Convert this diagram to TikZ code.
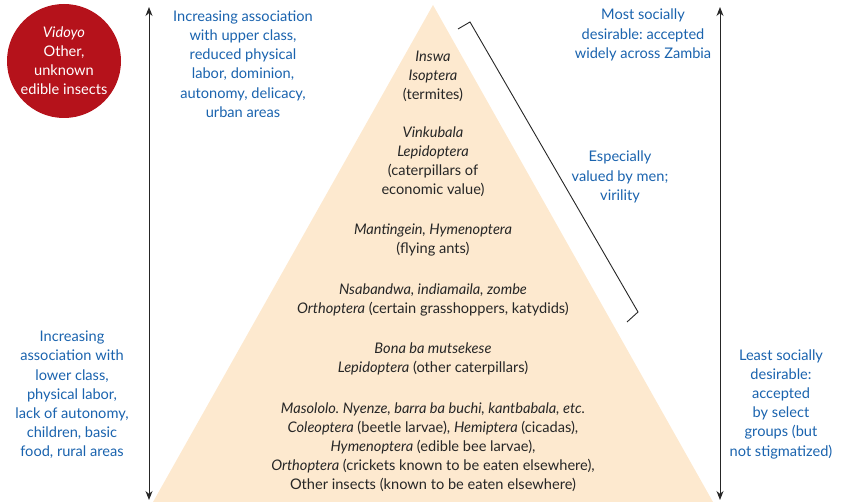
\documentclass[tikz,border=0pt]{standalone}
\usepackage{fontspec}
\setmainfont{Lato}
\frenchspacing
\usepackage{xcolor}
\definecolor{peach}{HTML}{FDE9CF}
\definecolor{crimson}{HTML}{B5121B}
\definecolor{azure}{HTML}{1A63AE}
\definecolor{ink}{HTML}{262626}
\usepackage{tikz}
\usetikzlibrary{arrows.meta,positioning}
\tikzset{
    tier/.style={align=center, text=ink, inner sep=0pt, font=\fontsize{14.6}{19}\selectfont},
    remark/.style={align=center, text=azure, inner sep=0pt, font=\fontsize{14.6}{19.2}\selectfont},
    scale_arrow/.style={{Stealth[length=9pt,width=7pt]}-{Stealth[length=9pt,width=7pt]}, line width=1pt, ink},
    bracket/.style={draw=ink, line width=0.9pt, line join=miter}
}

\begin{document}
\begin{tikzpicture}[x=1pt, y=-1pt]
  \useasboundingbox (0,0) rectangle (841,502);

  % Pyramid
  \fill[peach] (433,5) -- (713,502) -- (153,502) -- cycle;

  % Tiers, top to bottom
  \node[tier] (termites) at (433,76) {\textit{Inswa}\\\textit{Isoptera}\\(termites)};
  \node[tier] (caterp) at (433,161.5) {\textit{Vinkubala}\\\textit{Lepidoptera}\\(caterpillars of\\economic value)};
  \node[tier] (ants) at (433,240.5) {\textit{Mantingein, Hymenoptera}\\(flying ants)};
  \node[tier] (hoppers) at (433,299.5) {\textit{Nsabandwa, indiamaila, zombe}\\\textit{Orthoptera} (certain grasshoppers, katydids)};
  \node[tier] (others) at (433,358.5) {\textit{Bona ba mutsekese}\\\textit{Lepidoptera} (other caterpillars)};
  \node[tier] (base) at (433,447) {\textit{Masololo. Nyenze, barra ba buchi, kantbabala, etc.}\\
    \textit{Coleoptera} (beetle larvae), \textit{Hemiptera} (cicadas),\\
    \textit{Hymenoptera} (edible bee larvae),\\
    \textit{Orthoptera} (crickets known to be eaten elsewhere),\\
    Other insects (known to be eaten elsewhere)};

  % Unknown insects
  \node[circle, fill=crimson, minimum size=114pt, inner sep=0pt] (vidoyo) at (64,61) {};
  \node[tier, text=white] (vidoyotxt) at (vidoyo) {\textit{Vidoyo}\\Other,\\unknown\\edible insects};

  % Scale arrows
  \coordinate (ltop) at (149,7);
  \coordinate (lbot) at (149,500);
  \coordinate (rtop) at (720,7);
  \coordinate (rbot) at (720,500);
  \draw[scale_arrow] (lbot) -- (ltop);
  \draw[scale_arrow] (rbot) -- (rtop);

  % Side remarks
  \node[remark] (upper) at (243,64) {Increasing association\\with upper class,\\reduced physical\\labor, dominion,\\autonomy, delicacy,\\urban areas};
  \node[remark] (lower) at (72,395) {Increasing\\association with\\lower class,\\physical labor,\\lack of autonomy,\\children, basic\\food, rural areas};
  \node[remark] (most) at (643,35) {Most socially\\desirable: accepted\\widely across Zambia};
  \node[remark] (men) at (620,177) {Especially\\valued by men;\\virility};
  \node[remark] (least) at (781,404) {Least socially\\desirable:\\accepted\\by select\\groups (but\\not stigmatized)};

  % Bracket over the upper tiers
  \draw[bracket] (458,29) -- (470,22) -- (638,312) -- (627,322);
\end{tikzpicture}
\end{document}
